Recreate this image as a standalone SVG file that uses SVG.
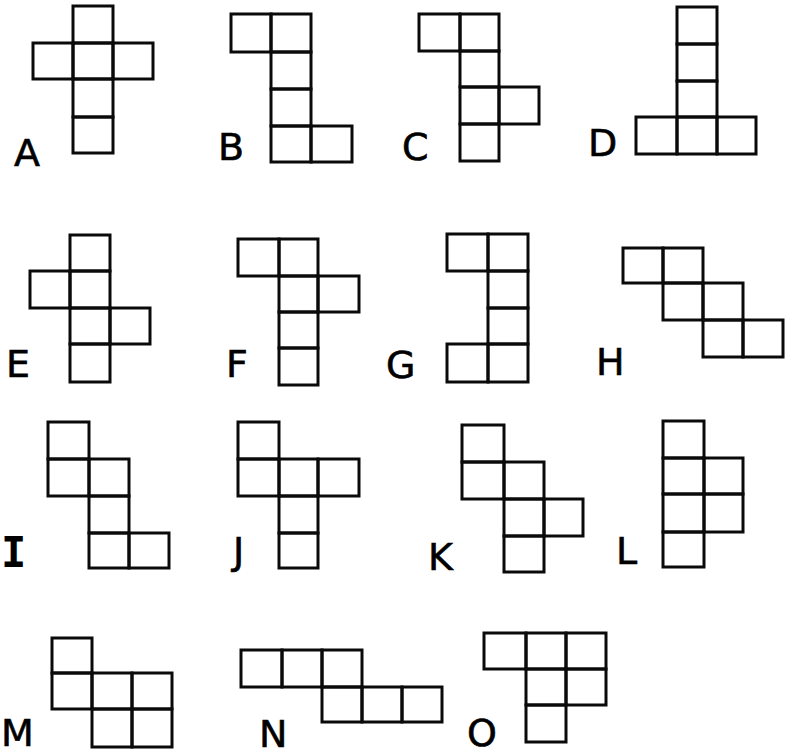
<svg xmlns="http://www.w3.org/2000/svg" width="796" height="756" viewBox="0 0 796 756">
<style>
rect.c{fill:none;stroke:#0a0a0a;stroke-width:3}
text{font-family:"DejaVu Sans","Liberation Sans",sans-serif;font-size:38px;fill:#000;stroke:#000;stroke-width:0.6}
text.m{font-family:"DejaVu Sans Mono","Liberation Mono",monospace;font-weight:bold;font-size:42px;stroke-width:0}
</style>
<rect width="796" height="756" fill="#fff"/>
<g id="A">
<rect class="c" x="73" y="6" width="40" height="37"/><rect class="c" x="33" y="43" width="40" height="36"/><rect class="c" x="73" y="43" width="40" height="36"/><rect class="c" x="113" y="43" width="40" height="36"/><rect class="c" x="73" y="79" width="40" height="38"/><rect class="c" x="73" y="117" width="40" height="36"/>
<text x="14" y="166">A</text></g>
<g id="B">
<rect class="c" x="231" y="14" width="40" height="38"/><rect class="c" x="271" y="14" width="40" height="38"/><rect class="c" x="271" y="52" width="40" height="37"/><rect class="c" x="271" y="89" width="40" height="37"/><rect class="c" x="271" y="126" width="40" height="36"/><rect class="c" x="311" y="126" width="41" height="36"/>
<text x="218" y="160">B</text></g>
<g id="C">
<rect class="c" x="419" y="14" width="41" height="37"/><rect class="c" x="460" y="14" width="39" height="37"/><rect class="c" x="460" y="51" width="39" height="36"/><rect class="c" x="460" y="87" width="39" height="37"/><rect class="c" x="499" y="87" width="40" height="37"/><rect class="c" x="460" y="124" width="39" height="37"/>
<text x="402" y="160">C</text></g>
<g id="D">
<rect class="c" x="677" y="7" width="40" height="37"/><rect class="c" x="677" y="44" width="40" height="37"/><rect class="c" x="677" y="81" width="40" height="36"/><rect class="c" x="636" y="117" width="41" height="37"/><rect class="c" x="677" y="117" width="40" height="37"/><rect class="c" x="717" y="117" width="39" height="37"/>
<text x="588" y="156">D</text></g>
<g id="E">
<rect class="c" x="70" y="235" width="40" height="36"/><rect class="c" x="30" y="271" width="40" height="37"/><rect class="c" x="70" y="271" width="40" height="37"/><rect class="c" x="70" y="308" width="40" height="36"/><rect class="c" x="110" y="308" width="40" height="36"/><rect class="c" x="70" y="344" width="40" height="38"/>
<text x="6" y="377">E</text></g>
<g id="F">
<rect class="c" x="238" y="239" width="41" height="37"/><rect class="c" x="279" y="239" width="39" height="37"/><rect class="c" x="279" y="276" width="39" height="36"/><rect class="c" x="318" y="276" width="41" height="36"/><rect class="c" x="279" y="312" width="39" height="36"/><rect class="c" x="279" y="348" width="39" height="37"/>
<text x="226" y="377">F</text></g>
<g id="G">
<rect class="c" x="447" y="234" width="41" height="37"/><rect class="c" x="488" y="234" width="40" height="37"/><rect class="c" x="488" y="271" width="40" height="37"/><rect class="c" x="488" y="308" width="40" height="36"/><rect class="c" x="447" y="344" width="41" height="38"/><rect class="c" x="488" y="344" width="40" height="38"/>
<text x="386" y="378">G</text></g>
<g id="H">
<rect class="c" x="623" y="248" width="40" height="35"/><rect class="c" x="663" y="248" width="40" height="35"/><rect class="c" x="663" y="283" width="40" height="37"/><rect class="c" x="703" y="283" width="40" height="37"/><rect class="c" x="703" y="320" width="40" height="37"/><rect class="c" x="743" y="320" width="40" height="37"/>
<text x="596" y="375">H</text></g>
<g id="I">
<rect class="c" x="48" y="422" width="41" height="37"/><rect class="c" x="48" y="459" width="41" height="37"/><rect class="c" x="89" y="459" width="40" height="37"/><rect class="c" x="89" y="496" width="40" height="37"/><rect class="c" x="89" y="533" width="40" height="35"/><rect class="c" x="129" y="533" width="40" height="35"/>
<text class="m" x="1" y="567">I</text></g>
<g id="J">
<rect class="c" x="238" y="422" width="41" height="37"/><rect class="c" x="238" y="459" width="41" height="37"/><rect class="c" x="279" y="459" width="39" height="37"/><rect class="c" x="318" y="459" width="41" height="37"/><rect class="c" x="279" y="496" width="39" height="37"/><rect class="c" x="279" y="533" width="39" height="35"/>
<text x="233" y="564">J</text></g>
<g id="K">
<rect class="c" x="462" y="425" width="42" height="37"/><rect class="c" x="462" y="462" width="42" height="37"/><rect class="c" x="504" y="462" width="40" height="37"/><rect class="c" x="504" y="499" width="40" height="37"/><rect class="c" x="544" y="499" width="39" height="37"/><rect class="c" x="504" y="536" width="40" height="36"/>
<text x="428" y="570">K</text></g>
<g id="L">
<rect class="c" x="663" y="421" width="41" height="37"/><rect class="c" x="663" y="458" width="41" height="36"/><rect class="c" x="704" y="458" width="39" height="36"/><rect class="c" x="663" y="494" width="41" height="38"/><rect class="c" x="704" y="494" width="39" height="38"/><rect class="c" x="663" y="532" width="41" height="35"/>
<text x="616" y="564">L</text></g>
<g id="M">
<rect class="c" x="52" y="638" width="40" height="35"/><rect class="c" x="52" y="673" width="40" height="36"/><rect class="c" x="92" y="673" width="40" height="36"/><rect class="c" x="132" y="673" width="40" height="36"/><rect class="c" x="92" y="709" width="40" height="38"/><rect class="c" x="132" y="709" width="40" height="38"/>
<text x="1" y="746">M</text></g>
<g id="N">
<rect class="c" x="241" y="650" width="41" height="37"/><rect class="c" x="282" y="650" width="40" height="37"/><rect class="c" x="322" y="650" width="40" height="37"/><rect class="c" x="322" y="687" width="40" height="35"/><rect class="c" x="362" y="687" width="40" height="35"/><rect class="c" x="402" y="687" width="40" height="35"/>
<text x="259" y="747">N</text></g>
<g id="O">
<rect class="c" x="484" y="633" width="42" height="36"/><rect class="c" x="526" y="633" width="40" height="36"/><rect class="c" x="566" y="633" width="40" height="36"/><rect class="c" x="526" y="669" width="40" height="36"/><rect class="c" x="566" y="669" width="40" height="36"/><rect class="c" x="526" y="705" width="40" height="37"/>
<text x="467" y="746">O</text></g>
</svg>
